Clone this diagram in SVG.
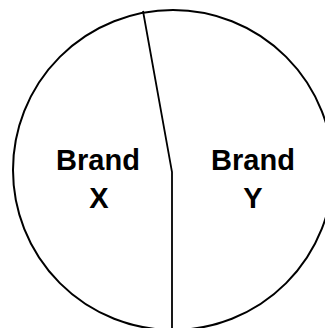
<svg xmlns="http://www.w3.org/2000/svg" width="325" height="328" viewBox="0 0 325 328">
<style>
.outline{fill:none;stroke:#000;stroke-width:2}
.div{fill:none;stroke:#000;stroke-width:1.8}
.lbl{font-family:"Liberation Sans",Arial,sans-serif;font-weight:bold;font-size:29px;fill:#000;text-anchor:middle}
</style>
<rect width="325" height="328" fill="#fff"/>
<g id="pie">
<circle class="outline" cx="173" cy="170" r="160"/>
</g>
<g id="connectors">
<polyline class="div" points="143,11 172,172 172,330"/>
</g>
<g id="brand-x">
<text class="lbl" x="98" y="170">Brand</text>
<text class="lbl" x="99" y="208">X</text>
</g>
<g id="brand-y">
<text class="lbl" x="253" y="170">Brand</text>
<text class="lbl" x="253" y="208">Y</text>
</g>
</svg>
